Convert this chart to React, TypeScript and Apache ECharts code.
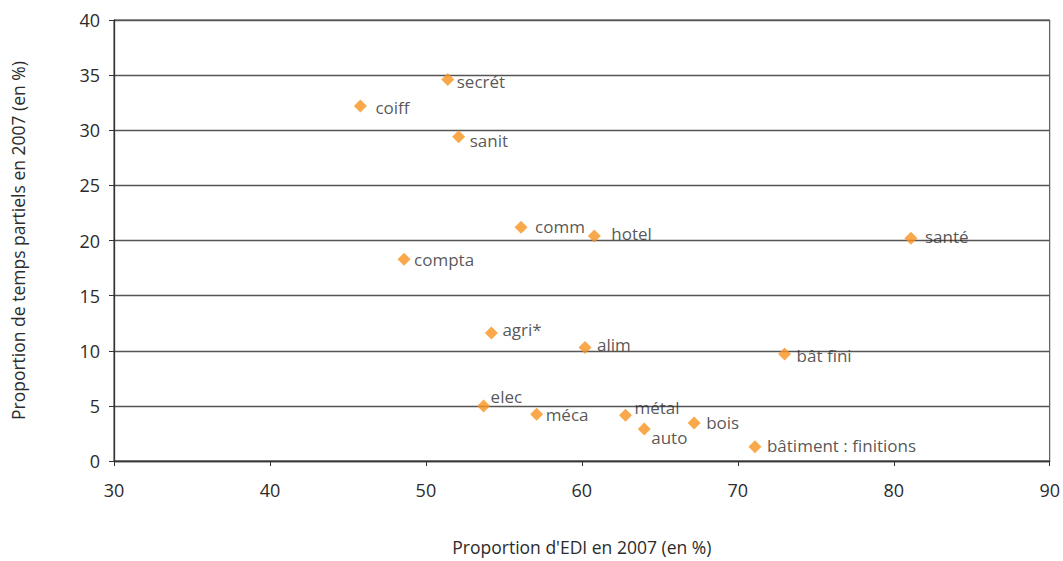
import React, { useEffect, useRef } from "react";
import * as echarts from "echarts";

const names = [
  "secrét", "coiff", "sanit", "comm", "hotel", "santé", "compta", "agri*",
  "alim", "bât fini", "elec", "méca", "métal", "auto", "bois", "bâtiment : finitions",
];
const ediShare = [51.4, 45.8, 52.1, 56.1, 60.8, 81.1, 48.6, 54.2, 60.2, 73.0, 53.7, 57.1, 62.8, 64.0, 67.2, 71.1];
const partTimeShare = [34.6, 32.2, 29.4, 21.2, 20.4, 20.2, 18.3, 11.6, 10.3, 9.7, 5.0, 4.25, 4.15, 2.9, 3.45, 1.3];
const xTicks = [30, 40, 50, 60, 70, 80, 90];
const yTicks = [0, 5, 10, 15, 20, 25, 30, 35, 40];

// label offsets (styling only)
const labelOffsets: [number, number][] = [
  [2.5, 1.5], [8.5, 1.5], [4.5, 3.5], [7.5, -0.5], [10.5, -2.5], [7.5, -1.5], [3.5, 0.5], [4.5, -3.5],
  [5.5, -2.5], [5.5, 1.5], [0.5, -9.5], [2.5, 0.5], [2.5, -7.5], [0.5, 8.5], [5.5, -0.5], [5.5, -1.5],
];

const FONT = "'Open Sans', Lato, sans-serif";

export default function App() {
  const ref = useRef<HTMLDivElement>(null);
  useEffect(() => {
    if (!ref.current) return;
    const chart = echarts.init(ref.current, undefined, { renderer: "svg" });
    const data = names.map((n, i) => ({
      name: n,
      value: [ediShare[i], partTimeShare[i]],
      label: { offset: labelOffsets[i] },
    }));
    chart.setOption({
      animation: false,
      textStyle: { fontFamily: FONT },
      grid: { left: 114, right: 13, top: 20, bottom: 99, show: true, borderColor: "#3a3a3a", borderWidth: 1 },
      xAxis: {
        type: "value",
        min: xTicks[0],
        max: xTicks[xTicks.length - 1],
        interval: 10,
        name: "Proportion d'EDI en 2007 (en %)",
        nameLocation: "middle",
        nameGap: 77,
        nameTextStyle: { color: "#2b2b2b", fontSize: 17.5, fontFamily: FONT },
        axisLine: { show: true, lineStyle: { color: "#333", width: 1.3 } },
        axisTick: { show: true, inside: false, length: 5, lineStyle: { color: "#333" } },
        axisLabel: { color: "#2b2b2b", fontSize: 18, margin: 20, fontFamily: FONT },
        splitLine: { show: false },
      },
      yAxis: {
        type: "value",
        min: yTicks[0],
        max: yTicks[yTicks.length - 1],
        interval: 5,
        name: "Proportion de temps partiels en 2007 (en %)",
        nameLocation: "middle",
        nameGap: 87,
        nameTextStyle: { color: "#2b2b2b", fontSize: 17.5, fontFamily: FONT },
        axisLine: { show: true, lineStyle: { color: "#333", width: 1.3 } },
        axisTick: { show: true, inside: false, length: 5, lineStyle: { color: "#333" } },
        axisLabel: { color: "#2b2b2b", fontSize: 18, margin: 14, fontFamily: FONT },
        splitLine: { show: true, lineStyle: { color: "#555", width: 1.3 } },
      },
      series: [
        {
          type: "scatter",
          symbol: "diamond",
          symbolSize: 13,
          itemStyle: { color: "#F7941E" },
          data,
          label: {
            show: true,
            position: "right",
            distance: 0,
            formatter: "{b}",
            color: "#2b2b2b",
            fontSize: 17,
            fontFamily: FONT,
          },
        },
      ],
    });
    return () => chart.dispose();
  }, []);
  return <div ref={ref} style={{ width: 1063, height: 561, position: "absolute", left: 0, top: 0 }} />;
}
